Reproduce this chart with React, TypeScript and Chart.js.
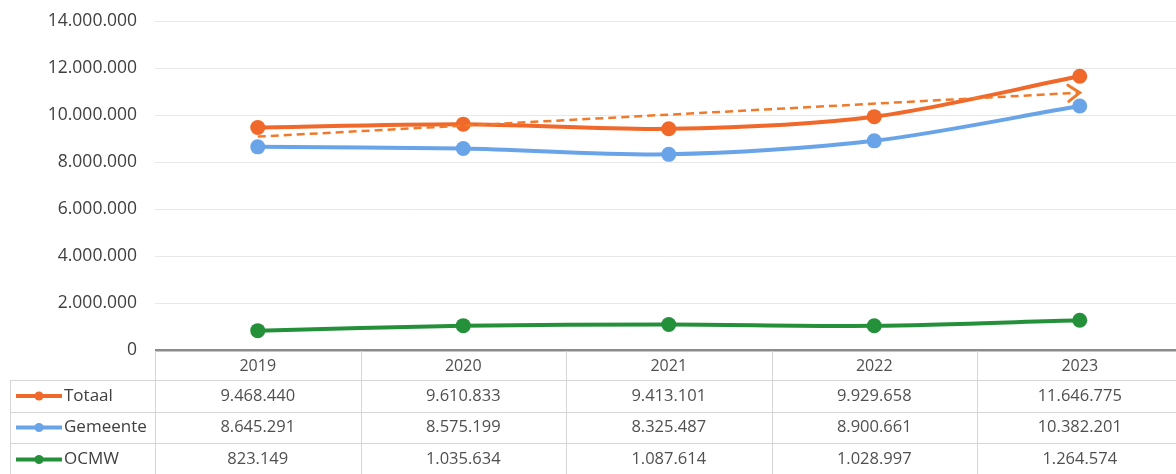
import React, { useEffect, useRef } from "react";
import { Chart, registerables } from "chart.js";

Chart.register(...registerables);

const years = ["2019", "2020", "2021", "2022", "2023"];
const seriesNames = ["Totaal", "Gemeente", "OCMW"];
const totaal = [9468440, 9610833, 9413101, 9929658, 11646775];
const gemeente = [8645291, 8575199, 8325487, 8900661, 10382201];
const ocmw = [823149, 1035634, 1087614, 1028997, 1264574];
// linear trendline of Totaal, endpoints
const trendTotaal: (number | null)[] = [9080000, null, null, null, 10950000];
const yMin = 0;
const yMax = 14000000;
const yStep = 2000000;

const seriesColors = ["#F0682A", "#6AA4E8", "#25903A"];
const trendColor = "#F07A2C";
const FONT = "'Open Sans', 'Noto Sans', sans-serif";

const fmt = (v: number) =>
  String(Math.round(v)).replace(/\B(?=(\d{3})+(?!\d))/g, ".");

const seriesValues = [totaal, gemeente, ocmw];

const arrowPlugin = {
  id: "trendArrow",
  afterDatasetsDraw(chart: any) {
    const idx = chart.data.datasets.findIndex((d: any) => d.isTrend);
    if (idx < 0) return;
    const meta = chart.getDatasetMeta(idx);
    const pts = meta.data.filter((p: any, i: number) => trendTotaal[i] != null);
    if (pts.length < 2) return;
    const a = pts[pts.length - 2];
    const b = pts[pts.length - 1];
    const ang = Math.atan2(b.y - a.y, b.x - a.x);
    const len = 14;
    const spread = 0.62;
    const ctx = chart.ctx;
    ctx.save();
    ctx.strokeStyle = trendColor;
    ctx.lineWidth = 3;
    ctx.lineCap = "round";
    ctx.lineJoin = "miter";
    ctx.beginPath();
    ctx.moveTo(b.x - len * Math.cos(ang - spread), b.y - len * Math.sin(ang - spread));
    ctx.lineTo(b.x, b.y);
    ctx.lineTo(b.x - len * Math.cos(ang + spread), b.y - len * Math.sin(ang + spread));
    ctx.stroke();
    ctx.restore();
  },
};

const tablePlugin = {
  id: "dataTable",
  afterDraw(chart: any) {
    const { ctx, chartArea, scales } = chart;
    const xs = scales.x;
    const bottom = chartArea.bottom;
    const half = (chartArea.right - chartArea.left) / years.length / 2;
    const rowEdges = [bottom, bottom + 30, bottom + 62, bottom + 93, bottom + 126];
    const legendLeft = 10;
    ctx.save();
    ctx.strokeStyle = "#d6d6d6";
    ctx.lineWidth = 1;
    for (let r = 1; r < rowEdges.length; r++) {
      const y = Math.round(rowEdges[r]) + 0.5;
      ctx.beginPath();
      ctx.moveTo(legendLeft, y);
      ctx.lineTo(chart.width, y);
      ctx.stroke();
    }
    for (let i = 0; i <= years.length; i++) {
      const xb =
        i < years.length ? xs.getPixelForValue(i) - half : xs.getPixelForValue(years.length - 1) + half;
      const x = Math.round(xb) + 0.5;
      ctx.beginPath();
      ctx.moveTo(x, bottom + 1);
      ctx.lineTo(x, rowEdges[rowEdges.length - 1]);
      ctx.stroke();
    }
    ctx.beginPath();
    ctx.moveTo(legendLeft + 0.5, rowEdges[1]);
    ctx.lineTo(legendLeft + 0.5, rowEdges[rowEdges.length - 1]);
    ctx.stroke();

    ctx.textAlign = "center";
    ctx.textBaseline = "middle";
    ctx.fillStyle = "#505050";
    ctx.font = `16px ${FONT}`;
    years.forEach((yr, i) => {
      ctx.fillText(yr, xs.getPixelForValue(i), (rowEdges[0] + rowEdges[1]) / 2 + 1);
    });
    ctx.font = `16.5px ${FONT}`;
    seriesValues.forEach((vals, r) => {
      const cy = (rowEdges[r + 1] + rowEdges[r + 2]) / 2;
      vals.forEach((v, i) => {
        ctx.fillText(fmt(v), xs.getPixelForValue(i), cy);
      });
    });
    ctx.font = `17px ${FONT}`;
    seriesNames.forEach((name, r) => {
      const cy = (rowEdges[r + 1] + rowEdges[r + 2]) / 2;
      ctx.strokeStyle = seriesColors[r];
      ctx.lineWidth = 4;
      ctx.beginPath();
      ctx.moveTo(16, cy);
      ctx.lineTo(62, cy);
      ctx.stroke();
      ctx.fillStyle = seriesColors[r];
      ctx.beginPath();
      ctx.arc(39, cy, 4.5, 0, Math.PI * 2);
      ctx.fill();
      ctx.fillStyle = "#404040";
      ctx.textAlign = "left";
      ctx.fillText(name, 64, cy);
    });
    ctx.restore();
  },
};

export default function App() {
  const ref = useRef<HTMLCanvasElement | null>(null);

  useEffect(() => {
    if (!ref.current) return;
    const mk = (label: string, data: number[], color: string, order: number) => ({
      label,
      data,
      borderColor: color,
      backgroundColor: color,
      borderWidth: 4,
      pointRadius: 7.5,
      pointBorderWidth: 0,
      pointBackgroundColor: color,
      tension: 0.3,
      order,
    });
    const chart = new Chart(ref.current, {
      type: "line",
      data: {
        labels: years,
        datasets: [
          {
            label: "Trend Totaal",
            data: trendTotaal,
            borderColor: trendColor,
            borderWidth: 2.5,
            borderDash: [8, 5],
            pointRadius: 0,
            spanGaps: true,
            tension: 0,
            order: 0,
            isTrend: true,
          } as any,
          mk(seriesNames[0], totaal, seriesColors[0], 1),
          mk(seriesNames[1], gemeente, seriesColors[1], 2),
          mk(seriesNames[2], ocmw, seriesColors[2], 3),
        ],
      },
      options: {
        animation: false,
        responsive: false,
        devicePixelRatio: 1,
        layout: { padding: { top: 21, bottom: 124, left: 0, right: 7 } },
        plugins: {
          legend: { display: false },
          tooltip: { enabled: false },
        },
        scales: {
          x: {
            type: "category",
            display: false,
            offset: true,
          },
          y: {
            min: yMin,
            max: yMax,
            border: { display: false },
            grid: {
              drawTicks: false,
              color: (c: any) => (c.tick && c.tick.value === 0 ? "#8c8c8c" : "#e8e8e8"),
              lineWidth: (c: any) => (c.tick && c.tick.value === 0 ? 2.5 : 1),
            },
            ticks: {
              stepSize: yStep,
              padding: 18,
              color: "#404040",
              font: { size: 17.5, family: FONT },
              callback: (v: any) => fmt(Number(v)),
            },
            afterFit: (scale: any) => {
              scale.width = 155;
              scale.paddingTop = 0;
              scale.paddingBottom = 0;
            },
          },
        },
      },
      plugins: [arrowPlugin, tablePlugin],
    });
    return () => chart.destroy();
  }, []);

  return (
    <div
      style={{
        position: "fixed",
        left: 0,
        top: 0,
        width: 1176,
        height: 474,
        overflow: "hidden",
        background: "#ffffff",
      }}
    >
      <canvas ref={ref} width={1190} height={474} style={{ display: "block" }} />
    </div>
  );
}
